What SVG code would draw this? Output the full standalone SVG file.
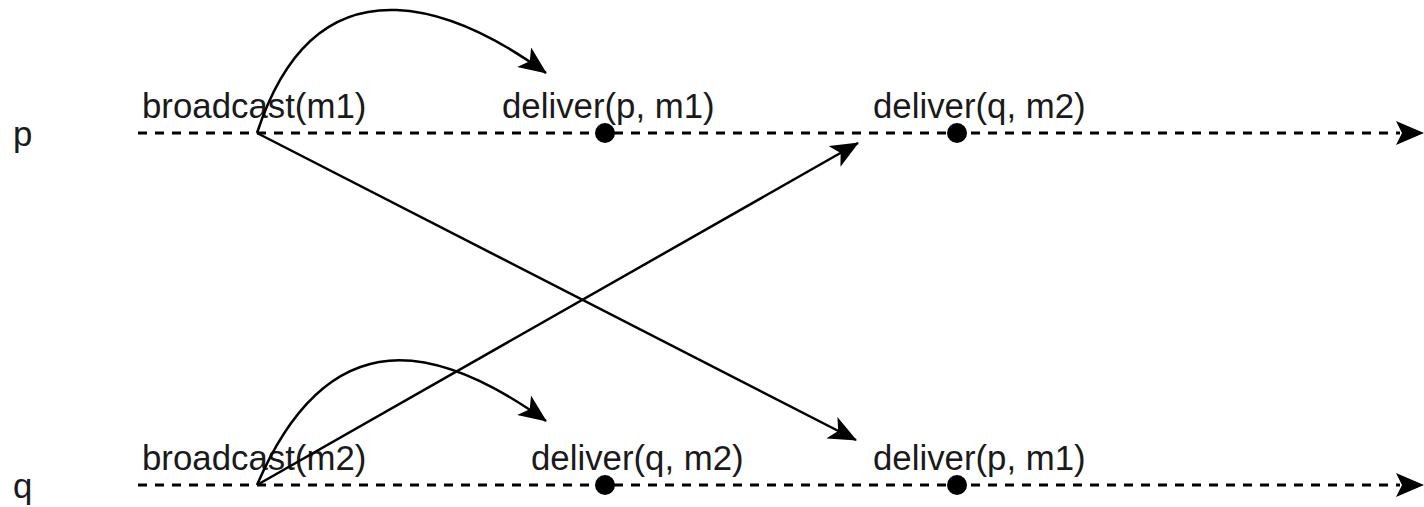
<svg xmlns="http://www.w3.org/2000/svg" width="1424" height="507" viewBox="0 0 1424 507">
  <style>
    .lbl { font-family: "Liberation Sans", Arial, sans-serif; font-size: 34.8px; fill: #1a1a1a; }
    .time { stroke: #000; stroke-width: 3; stroke-dasharray: 9 8; fill: none; }
    .msg { stroke: #000; stroke-width: 2.5; fill: none; }
    .dot { fill: #000; }
  </style>
  <defs>
    <marker id="arr" viewBox="0 0 28 24" refX="27" refY="12" markerWidth="28" markerHeight="24" markerUnits="userSpaceOnUse" orient="auto">
      <path d="M0,0 L28,12 L0,24 L7,12 Z" fill="#000"/>
    </marker>
  </defs>
  <rect width="1424" height="507" fill="#fff"/>

  <g id="process-p">
    <text class="lbl" x="13" y="146">p</text>
    <line class="time" x1="138" y1="133" x2="1400" y2="133"/>
    <path d="M1424,133 L1396,121 L1402,133 L1396,145 Z" fill="#000"/>
  </g>
  <g id="process-q">
    <text class="lbl" x="13" y="498">q</text>
    <line class="time" x1="138" y1="485" x2="1400" y2="485"/>
    <path d="M1424,485 L1396,473 L1402,485 L1396,497 Z" fill="#000"/>
  </g>

  <g id="broadcast-m1"><text class="lbl" x="142" y="118">broadcast(m1)</text></g>
  <g id="deliver-p-m1-at-p">
    <text class="lbl" x="502" y="118">deliver(p, m1)</text>
    <circle class="dot" cx="605" cy="133" r="10"/>
  </g>
  <g id="deliver-q-m2-at-p">
    <text class="lbl" x="873" y="118">deliver(q, m2)</text>
    <circle class="dot" cx="957" cy="133" r="10"/>
  </g>
  <g id="broadcast-m2"><text class="lbl" x="142" y="470">broadcast(m2)</text></g>
  <g id="deliver-q-m2-at-q">
    <text class="lbl" x="531" y="470">deliver(q, m2)</text>
    <circle class="dot" cx="605" cy="485" r="10"/>
  </g>
  <g id="deliver-p-m1-at-q">
    <text class="lbl" x="873" y="470">deliver(p, m1)</text>
    <circle class="dot" cx="957" cy="485" r="10"/>
  </g>

  <g id="connectors">
    <path class="msg" d="M257,133 C320,-60 470,18 546,73" marker-end="url(#arr)"/>
    <path class="msg" d="M257,133 L856,440" marker-end="url(#arr)"/>
    <path class="msg" d="M257,485 L858,143" marker-end="url(#arr)"/>
    <path class="msg" d="M257,485 C330,315 440,345 546,421" marker-end="url(#arr)"/>
  </g>
</svg>
